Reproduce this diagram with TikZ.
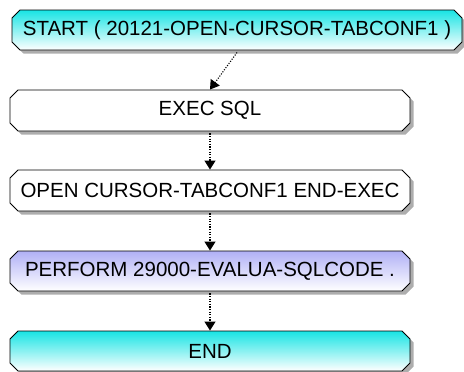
\documentclass[tikz,border=0pt]{standalone}
\usepackage{fontspec}
\setmainfont{Liberation Sans}
\usetikzlibrary{shapes.misc,shadows,arrows.meta}
\definecolor{cyanTop}{RGB}{24,228,228}
\definecolor{lavTop}{RGB}{176,176,246}
\begin{document}
\begin{tikzpicture}[x=1pt,y=-1pt,
  box/.style={chamfered rectangle, chamfered rectangle xsep=4pt, chamfered rectangle ysep=4pt,
    draw=black, line width=0.9pt, inner sep=0pt, minimum width=400pt, minimum height=40pt,
    font=\fontsize{20.5}{24}\selectfont,
    drop shadow={shadow xshift=3.5pt, shadow yshift=-3.5pt, fill=black!40, opacity=0.8}},
  termbox/.style={box, top color=cyanTop, bottom color=white},
  procbox/.style={box, fill=white},
  callbox/.style={box, top color=lavTop, bottom color=white},
  flow/.style={line width=1.1pt, dash pattern=on 1.1pt off 1.5pt, -{Triangle[width=11pt,length=9pt]}}
]
\useasboundingbox (0,0) rectangle (464,372);
\node[termbox, minimum width=450pt] (S) at (237,30) {START ( 20121-OPEN-CURSOR-TABCONF1 )};
\node[procbox, minimum height=41pt] (E) at (210,110.5) {EXEC SQL};
\node[procbox, minimum height=41pt] (O) at (210,190.5) {OPEN CURSOR-TABCONF1 END-EXEC};
\node[callbox] (P) at (210,271) {PERFORM 29000-EVALUA-SQLCODE .};
\node[termbox] (N) at (210,351) {END};
\draw[flow] ([yshift=-2pt]S.south) -- (E.north);
\draw[flow] ([yshift=-2pt]E.south) -- (O.north);
\draw[flow] ([yshift=-2pt]O.south) -- (P.north);
\draw[flow] ([yshift=-2pt]P.south) -- (N.north);
\end{tikzpicture}
\end{document}
